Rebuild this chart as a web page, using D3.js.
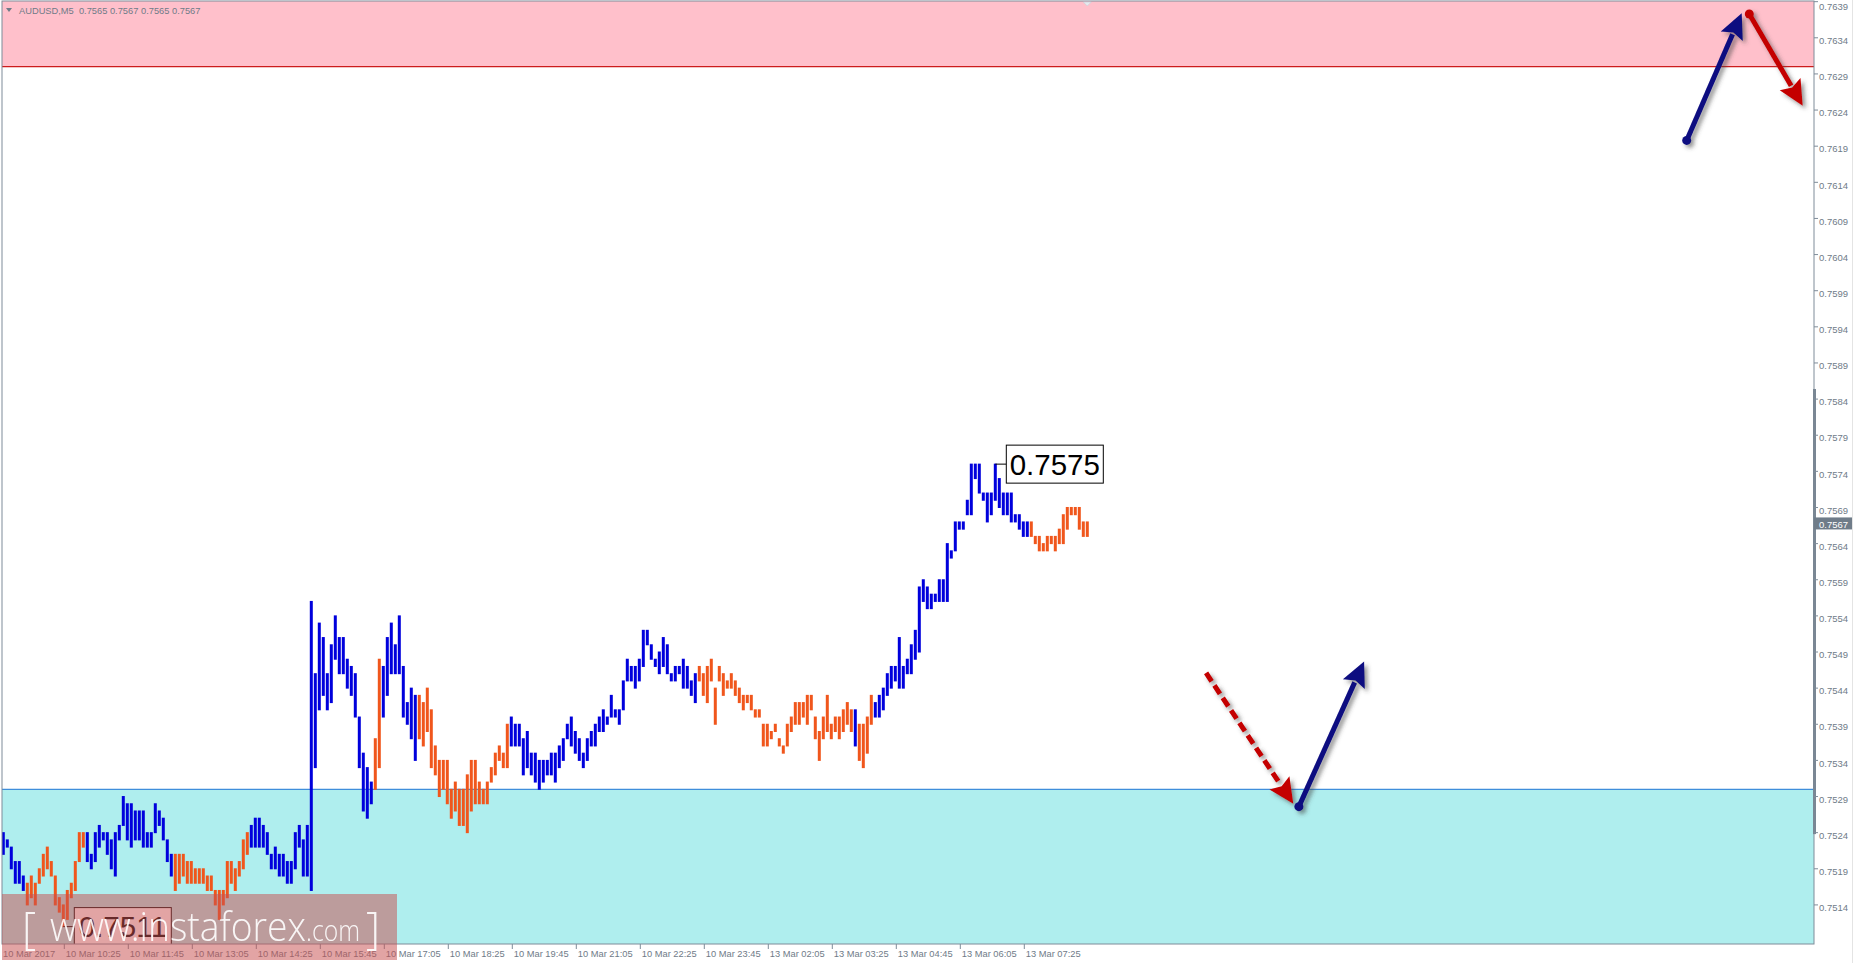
<!DOCTYPE html>
<html><head><meta charset="utf-8">
<script src="https://cdn.jsdelivr.net/npm/d3@7"></script>
<style>html,body{margin:0;padding:0;background:#fff;overflow:hidden}svg{display:block}</style>
</head><body>
<svg id="c" width="1855" height="963"></svg>
<script>
// ---------------- DATA ----------------
const symbol = "AUDUSD,M5";
const ohlcText = ["0.7565", "0.7567", "0.7565", "0.7567"];

const highs = [
0.7524,0.7523,0.7522,0.7520,0.7520,0.7518,0.7517,0.7518,0.7517,0.7519,
0.7521,0.7522,0.7520,0.7518,0.7515,0.7514,0.7516,0.7517,0.7520,0.7524,
0.7524,0.7524,0.7521,0.7524,0.7525,0.7524,0.7524,0.7523,0.7524,0.7525,
0.7529,0.7528,0.7528,0.7527,0.7527,0.7527,0.7524,0.7524,0.7528,0.7527,
0.7526,0.7523,0.7521,0.7521,0.7521,0.7521,0.7520,0.7520,0.7519,0.7519,
0.7519,0.7518,0.7518,0.7516,0.7516,0.7516,0.7520,0.7520,0.7519,0.7520,
0.7523,0.7524,0.7525,0.7526,0.7526,0.7525,0.7524,0.7521,0.7522,0.7521,
0.7521,0.7520,0.7520,0.7524,0.7525,0.7523,0.7525,0.7556,0.7546,0.7553,
0.7551,0.7546,0.7550,0.7554,0.7551,0.7551,0.7548,0.7547,0.7546,0.7540,
0.7535,0.7533,0.7531,0.7537,0.7548,0.7547,0.7551,0.7553,0.7550,0.7554,
0.7547,0.7542,0.7544,0.7543,0.7543,0.7542,0.7544,0.7541,0.7536,0.7534,
0.7534,0.7534,0.7530,0.7531,0.7530,0.7530,0.7532,0.7534,0.7534,0.7531,
0.7530,0.7531,0.7533,0.7535,0.7536,0.7535,0.7539,0.7540,0.7539,0.7539,
0.7537,0.7538,0.7535,0.7535,0.7534,0.7534,0.7534,0.7535,0.7535,0.7536,
0.7537,0.7539,0.7540,0.7538,0.7537,0.7535,0.7537,0.7538,0.7539,0.7540,
0.7541,0.7540,0.7543,0.7541,0.7541,0.7545,0.7548,0.7547,0.7547,0.7548,
0.7552,0.7552,0.7550,0.7548,0.7549,0.7551,0.7550,0.7546,0.7547,0.7547,
0.7548,0.7547,0.7545,0.7546,0.7547,0.7546,0.7547,0.7548,0.7544,0.7547,
0.7546,0.7545,0.7546,0.7545,0.7544,0.7543,0.7543,0.7543,0.7541,0.7541,
0.7539,0.7539,0.7538,0.7539,0.7537,0.7536,0.7539,0.7540,0.7542,0.7542,
0.7542,0.7543,0.7543,0.7540,0.7538,0.7540,0.7543,0.7539,0.7540,0.7540,
0.7541,0.7542,0.7541,0.7541,0.7539,0.7539,0.7540,0.7543,0.7542,0.7543,
0.7544,0.7546,0.7547,0.7547,0.7551,0.7547,0.7548,0.7550,0.7552,0.7558,
0.7559,0.7558,0.7557,0.7557,0.7559,0.7559,0.7564,0.7563,0.7567,0.7567,
0.7567,0.7570,0.7575,0.7575,0.7575,0.7571,0.7571,0.7571,0.7575,0.7573,
0.7571,0.7571,0.7571,0.7568,0.7568,0.7567,0.7567,0.7567,0.7565,0.7565,
0.7564,0.7565,0.7565,0.7565,0.7566,0.7568,0.7569,0.7569,0.7569,0.7569,
0.7567,0.7567];

const lows = [
0.7521,0.7522,0.7519,0.7517,0.7517,0.7516,0.7514,0.7515,0.7514,0.7517,
0.7518,0.7519,0.7518,0.7514,0.7513,0.7511,0.7512,0.7515,0.7516,0.7520,
0.7522,0.7520,0.7519,0.7520,0.7522,0.7523,0.7521,0.7519,0.7518,0.7523,
0.7525,0.7523,0.7522,0.7523,0.7523,0.7522,0.7522,0.7522,0.7524,0.7525,
0.7523,0.7520,0.7518,0.7516,0.7517,0.7518,0.7517,0.7517,0.7517,0.7517,
0.7517,0.7516,0.7516,0.7514,0.7512,0.7514,0.7515,0.7517,0.7516,0.7518,
0.7519,0.7521,0.7522,0.7522,0.7522,0.7522,0.7521,0.7519,0.7519,0.7518,
0.7518,0.7517,0.7517,0.7519,0.7522,0.7518,0.7518,0.7516,0.7533,0.7541,
0.7543,0.7541,0.7542,0.7548,0.7546,0.7546,0.7544,0.7543,0.7540,0.7533,
0.7527,0.7526,0.7528,0.7530,0.7533,0.7540,0.7543,0.7546,0.7546,0.7546,
0.7540,0.7539,0.7537,0.7534,0.7537,0.7536,0.7538,0.7533,0.7532,0.7529,
0.7530,0.7528,0.7526,0.7527,0.7525,0.7525,0.7524,0.7527,0.7528,0.7528,
0.7528,0.7528,0.7531,0.7532,0.7534,0.7533,0.7533,0.7536,0.7536,0.7536,
0.7532,0.7533,0.7532,0.7531,0.7530,0.7531,0.7532,0.7532,0.7531,0.7533,
0.7534,0.7537,0.7536,0.7535,0.7534,0.7533,0.7534,0.7536,0.7536,0.7538,
0.7538,0.7539,0.7540,0.7540,0.7539,0.7541,0.7545,0.7545,0.7544,0.7545,
0.7547,0.7550,0.7548,0.7547,0.7546,0.7547,0.7546,0.7545,0.7545,0.7546,
0.7544,0.7544,0.7543,0.7542,0.7545,0.7543,0.7542,0.7545,0.7539,0.7545,
0.7543,0.7544,0.7544,0.7543,0.7542,0.7541,0.7542,0.7541,0.7540,0.7540,
0.7536,0.7536,0.7537,0.7538,0.7536,0.7535,0.7536,0.7538,0.7539,0.7539,
0.7540,0.7539,0.7541,0.7537,0.7534,0.7537,0.7538,0.7537,0.7538,0.7537,
0.7538,0.7539,0.7538,0.7536,0.7534,0.7533,0.7535,0.7539,0.7540,0.7540,
0.7541,0.7543,0.7544,0.7545,0.7544,0.7544,0.7546,0.7546,0.7548,0.7549,
0.7556,0.7555,0.7555,0.7556,0.7556,0.7556,0.7556,0.7562,0.7563,0.7566,
0.7566,0.7568,0.7568,0.7573,0.7571,0.7570,0.7567,0.7568,0.7570,0.7569,
0.7568,0.7568,0.7567,0.7567,0.7566,0.7565,0.7565,0.7565,0.7564,0.7563,
0.7563,0.7563,0.7564,0.7563,0.7564,0.7564,0.7566,0.7568,0.7568,0.7566,
0.7565,0.7565];

// bar colour runs: "u" = blue bars, "d" = orange bars
const trendRuns = [["u",6],["d",15],["u",22],["d",19],["u",31],["d",2],["u",9],["d",23],
                   ["u",47],["d",39],["u",1],["d",4],["u",39],["d",15]];

const priceTicks = ["0.7639","0.7634","0.7629","0.7624","0.7619","0.7614","0.7609","0.7604",
  "0.7599","0.7594","0.7589","0.7584","0.7579","0.7574","0.7569","0.7564","0.7559","0.7554",
  "0.7549","0.7544","0.7539","0.7534","0.7529","0.7524","0.7519","0.7514"];

const timeTickBars = [0,16,32,48,64,80,96,112,128,144,160,176,192,208,224,240,256];
const timeLabels = ["10 Mar 2017","10 Mar 10:25","10 Mar 11:45","10 Mar 13:05","10 Mar 14:25",
  "10 Mar 15:45","10 Mar 17:05","10 Mar 18:25","10 Mar 19:45","10 Mar 21:05","10 Mar 22:25",
  "10 Mar 23:45","13 Mar 02:05","13 Mar 03:25","13 Mar 04:45","13 Mar 06:05","13 Mar 07:25"];

const resistanceZone = [0.7630, 0.76395];   // pink
const supportZone    = [0.75085, 0.7530];   // turquoise
const currentPrice = 0.7567;
const scaleBarRange = [0.75238, 0.75854];

const extremes = [
  {bar: 248, price: 0.7575, label: "0.7575"},
  {bar: 15,  price: 0.7511, label: "0.7511"}
];

// forecast arrows in (bar index, price)
const arrows = [
  {b1: 420.85, p1: 0.76198, b2: 434.6, p2: 0.76374, color: "#0b0b80", dashed: false, dot: true},
  {b1: 436.5,  p1: 0.76373, b2: 449.85, p2: 0.76246, color: "#c40000", dashed: false, dot: true},
  {b1: 300.7,  p1: 0.75461, b2: 322.5, p2: 0.75280, color: "#c40000", dashed: true,  dot: false},
  {b1: 323.9,  p1: 0.75276, b2: 340.2, p2: 0.75477, color: "#0b0b80", dashed: false, dot: true}
];

// ---------------- DRAW ----------------
const W = 1855, H = 963;
const plotL = 2, plotR = 1814, plotT = 1, plotB = 944;
const BLUE = "#0000dc", ORANGE = "#f0561c";
const AXIS_TXT = "#6f7b88", AXIS_LINE = "#7f8c99";
const FONT = "'Liberation Sans', Arial, sans-serif";

const svg = d3.select("#c");
const x = d3.scaleLinear().domain([0, 452]).range([3.3, 3.3 + 4 * 452]);
const y = d3.scaleLinear().domain([0.7530, 0.7630]).range([789.3, 66.7]);

const dir = [];
trendRuns.forEach(([d, n]) => { for (let k = 0; k < n; k++) dir.push(d); });

const defs = svg.append("defs");
const f = defs.append("filter").attr("id", "sh").attr("x", "-30%").attr("y", "-30%").attr("width", "160%").attr("height", "160%");
f.append("feDropShadow").attr("dx", 3).attr("dy", 3).attr("stdDeviation", 2)
  .attr("flood-color", "#404040").attr("flood-opacity", 0.55);
defs.append("clipPath").attr("id", "plot").append("rect")
  .attr("x", plotL).attr("y", plotT).attr("width", plotR - plotL).attr("height", plotB - plotT);

svg.append("rect").attr("width", W).attr("height", H).attr("fill", "#fff");

const plot = svg.append("g").attr("clip-path", "url(#plot)");

// zones
plot.append("rect").attr("x", plotL).attr("width", plotR - plotL)
  .attr("y", y(resistanceZone[1])).attr("height", y(resistanceZone[0]) - y(resistanceZone[1]))
  .attr("fill", "#ffc0cb");
plot.append("line").attr("x1", plotL).attr("x2", plotR)
  .attr("y1", y(resistanceZone[0])).attr("y2", y(resistanceZone[0]))
  .attr("stroke", "#cc1c1c").attr("stroke-width", 1.2);
plot.append("rect").attr("x", plotL).attr("width", plotR - plotL)
  .attr("y", y(supportZone[1])).attr("height", y(supportZone[0]) - y(supportZone[1]))
  .attr("fill", "#afeeee");
plot.append("line").attr("x1", plotL).attr("x2", plotR)
  .attr("y1", y(supportZone[1])).attr("y2", y(supportZone[1]))
  .attr("stroke", "#3f8edb").attr("stroke-width", 1.2);

// bars
plot.selectAll("rect.bar").data(d3.range(highs.length)).join("rect")
  .attr("class", "bar")
  .attr("x", i => x(i) - 1.5).attr("width", 3)
  .attr("y", i => y(highs[i]) - 0.5)
  .attr("height", i => Math.max(1.5, y(lows[i]) - y(highs[i]) + 1))
  .attr("fill", i => dir[i] === "u" ? BLUE : ORANGE);

// extreme labels
extremes.forEach(e => {
  const bx = x(e.bar), by = y(e.price);
  plot.append("line").attr("x1", bx).attr("x2", bx + 11).attr("y1", by).attr("y2", by)
    .attr("stroke", "#000").attr("stroke-width", 1);
  plot.append("rect").attr("x", bx + 11).attr("y", by - 19).attr("width", 97).attr("height", 38)
    .attr("fill", "#fff").attr("stroke", "#000").attr("stroke-width", 1);
  plot.append("text").attr("x", bx + 11 + 48.5).attr("y", by + 10.5)
    .attr("text-anchor", "middle").attr("font-family", FONT).attr("font-size", 29.5)
    .attr("fill", "#000").text(e.label);
});

// arrows
const ag = svg.append("g");
arrows.forEach(a => {
  const X1 = x(a.b1), Y1 = y(a.p1), X2 = x(a.b2), Y2 = y(a.p2);
  const dx = X2 - X1, dy = Y2 - Y1, len = Math.hypot(dx, dy);
  const ux = dx / len, uy = dy / len, hl = 25, hw = 12;
  const bxp = X2 - ux * hl, byp = Y2 - uy * hl;
  const g = ag.append("g").attr("filter", "url(#sh)");
  g.append("line").attr("x1", X1).attr("y1", Y1).attr("x2", bxp + ux * 2).attr("y2", byp + uy * 2)
    .attr("stroke", a.color).attr("stroke-width", 5)
    .attr("stroke-dasharray", a.dashed ? "10,5" : null);
  g.append("polygon").attr("points", [
      [X2, Y2], [bxp - uy * hw, byp + ux * hw], [bxp + ux * 4, byp + uy * 4], [bxp + uy * hw, byp - ux * hw]
    ].map(p => p.join(",")).join(" "))
    .attr("fill", a.color);
  if (a.dot) g.append("circle").attr("cx", X1).attr("cy", Y1).attr("r", 4.5).attr("fill", a.color);
});

// plot frame
svg.append("rect").attr("x", plotL).attr("y", plotT).attr("width", plotR - plotL).attr("height", plotB - plotT)
  .attr("fill", "none").attr("stroke", AXIS_LINE).attr("stroke-width", 1);

// shift marker
svg.append("path").attr("d", d3.line()([[x(271) - 4, 2], [x(271) + 4, 2], [x(271), 6]]) + "Z")
  .attr("fill", "#e6eaee").attr("stroke", "#c8cfd6").attr("stroke-width", 0.6);

// header
svg.append("path").attr("d", "M6,8 L12,8 L9,12 Z").attr("fill", AXIS_TXT);
svg.append("text").attr("x", 19).attr("y", 14).attr("font-family", FONT).attr("font-size", 9.3)
  .attr("fill", AXIS_TXT).attr("xml:space", "preserve").style("white-space", "pre")
  .text(symbol + "  " + ohlcText.join(" "));

// price axis
const pa = svg.append("g");
pa.append("rect").attr("x", plotR - 1).attr("width", 3)
  .attr("y", y(scaleBarRange[1])).attr("height", y(scaleBarRange[0]) - y(scaleBarRange[1]))
  .attr("fill", "#7a8794");
pa.selectAll("line.pt").data(priceTicks).join("line")
  .attr("x1", plotR).attr("x2", plotR + 4)
  .attr("y1", d => y(+d)).attr("y2", d => y(+d)).attr("stroke", AXIS_LINE);
pa.selectAll("text.pt").data(priceTicks).join("text")
  .attr("x", 1819).attr("y", d => Math.max(9.5, y(+d) + 6.2))
  .attr("font-family", FONT).attr("font-size", 9.5).attr("fill", AXIS_TXT).text(d => d);
pa.append("rect").attr("x", plotR).attr("y", y(currentPrice) - 4.5).attr("width", 38).attr("height", 12)
  .attr("fill", "#6f7c89");
pa.append("text").attr("x", 1819).attr("y", y(currentPrice) + 6)
  .attr("font-family", FONT).attr("font-size", 9.5).attr("fill", "#fff").text(d3.format(".4f")(currentPrice));
pa.append("line").attr("x1", 1852.5).attr("x2", 1852.5).attr("y1", 0).attr("y2", H)
  .attr("stroke", "#e4e4e4");

// time axis
const ta = svg.append("g");
ta.selectAll("line.tt").data(timeTickBars.slice(1)).join("line")
  .attr("x1", d => x(d) - 3).attr("x2", d => x(d) - 3).attr("y1", plotB).attr("y2", plotB + 5)
  .attr("stroke", AXIS_LINE);
ta.selectAll("text.tt").data(timeTickBars).join("text")
  .attr("x", (d, k) => k === 0 ? 3 : x(d) - 1.5).attr("y", 956.5)
  .attr("font-family", FONT).attr("font-size", 9.3).attr("fill", AXIS_TXT)
  .text((d, k) => timeLabels[k]);

// watermark
const wm = svg.append("g");
wm.append("rect").attr("x", 2).attr("y", 894).attr("width", 395).attr("height", 66)
  .attr("fill", "rgb(200,80,80)").attr("opacity", 0.52);
const WF = "'Open Sans', 'Liberation Sans', sans-serif";
wm.append("text").attr("x", 22).attr("y", 944).attr("font-family", WF).attr("font-weight", 300)
  .attr("font-size", 44).attr("fill", "#fff").attr("opacity", 0.9).text("[");
wm.append("text").attr("x", 50).attr("y", 941).attr("font-family", WF).attr("font-weight", 300)
  .attr("font-size", 40).attr("fill", "#fff").attr("opacity", 0.9)
  .attr("textLength", 256).attr("lengthAdjust", "spacingAndGlyphs").text("www.instaforex");
wm.append("text").attr("x", 306).attr("y", 941).attr("font-family", WF).attr("font-weight", 300)
  .attr("font-size", 29).attr("fill", "#fff").attr("opacity", 0.9)
  .attr("textLength", 54).attr("lengthAdjust", "spacingAndGlyphs").text(".com");
wm.append("text").attr("x", 366).attr("y", 944).attr("font-family", WF).attr("font-weight", 300)
  .attr("font-size", 44).attr("fill", "#fff").attr("opacity", 0.9).text("]");
</script>
</body></html>
